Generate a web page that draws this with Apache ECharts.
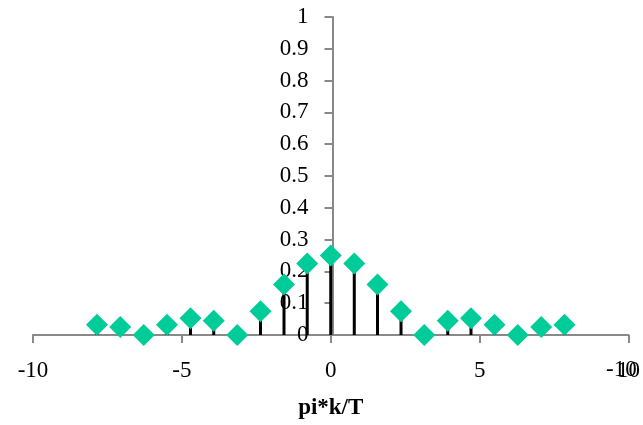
<!DOCTYPE html>
<html>
<head>
<meta charset="utf-8">
<script src="https://cdn.jsdelivr.net/npm/echarts@6/dist/echarts.min.js"></script>
<style>
  html, body { margin: 0; padding: 0; background: #fff; }
  #chart { width: 643px; height: 425px; }
</style>
</head>
<body>
<div id="chart"></div>
<script>
// sample points, x = pi*k/T
var xVals = [-7.85, -7.07, -6.28, -5.50, -4.71, -3.93, -3.14, -2.36, -1.57, -0.79, 0,
             0.79, 1.57, 2.36, 3.14, 3.93, 4.71, 5.50, 6.28, 7.07, 7.85];
var yVals = [0.032, 0.025, 0, 0.032, 0.053, 0.045, 0, 0.075, 0.159, 0.225, 0.25,
             0.225, 0.159, 0.075, 0, 0.045, 0.053, 0.032, 0, 0.025, 0.032];
var xTicks = [-10, -5, 0, 5, 10];
var yTicks = [0, 0.1, 0.2, 0.3, 0.4, 0.5, 0.6, 0.7, 0.8, 0.9, 1];

var pts = [];
for (var i = 0; i < xVals.length; i++) {
    pts.push([xVals[i], yVals[i]]);
}

var font = '"Liberation Serif", "Times New Roman", serif';
var axisGrey = '#898989';

var myChart = echarts.init(document.getElementById('chart'));

// y axis sits on x = 0: shift it in from the grid's left edge
var gridLeft = 33, gridRight = 11;
var plotW = 643 - gridLeft - gridRight;
var yShift = plotW * (0 - xTicks[0]) / (xTicks[xTicks.length - 1] - xTicks[0]);

var option = {
    animation: false,
    backgroundColor: '#fff',
    grid: { left: gridLeft, right: gridRight, top: 17, bottom: 86, containLabel: false },
    xAxis: {
        type: 'value',
        min: -10, max: 10, interval: 5,
        name: 'pi*k/T',
        nameLocation: 'middle',
        nameGap: 62,
        nameTextStyle: { fontFamily: font, fontSize: 23, fontWeight: 'bold', color: '#000' },
        splitLine: { show: false },
        axisLine: { onZero: true, lineStyle: { color: axisGrey, width: 2 } },
        axisTick: { length: 8, lineStyle: { color: axisGrey, width: 2 } },
        axisLabel: {
            margin: 24, fontFamily: font, fontSize: 23, color: '#000',
            formatter: function (v) { return xTicks.indexOf(v) >= 0 ? String(v) : ''; }
        }
    },
    yAxis: {
        type: 'value',
        min: 0, max: 1, interval: 0.1,
        offset: -yShift,
        splitLine: { show: false },
        axisLine: { show: true, onZero: false, lineStyle: { color: axisGrey, width: 2 } },
        axisTick: { show: true, length: 8, lineStyle: { color: axisGrey, width: 2 } },
        axisLabel: {
            margin: 24, fontFamily: font, fontSize: 23, color: '#000',
            formatter: function (v) {
                var r = Math.round(v * 10) / 10;
                return yTicks.indexOf(r) >= 0 ? String(r) : '';
            }
        }
    },
    graphic: [
        {
            // the stray overlapping label at the right end
            type: 'text', left: 606, top: 358, z: 10,
            style: { text: '-10', font: '23px ' + font, fill: '#000' }
        }
    ],
    series: [
        {
            type: 'custom',
            z: 1,
            data: pts,
            renderItem: function (params, api) {
                var p0 = api.coord([api.value(0), 0]);
                var p1 = api.coord([api.value(0), api.value(1)]);
                return {
                    type: 'line',
                    shape: { x1: p0[0], y1: p0[1], x2: p1[0], y2: p1[1] },
                    style: { stroke: '#000', lineWidth: 3 }
                };
            }
        },
        {
            type: 'scatter',
            z: 3,
            symbol: 'diamond',
            symbolSize: 22,
            itemStyle: { color: '#00cc99', opacity: 1 },
            data: pts
        }
    ]
};

myChart.setOption(option);
</script>
</body>
</html>
